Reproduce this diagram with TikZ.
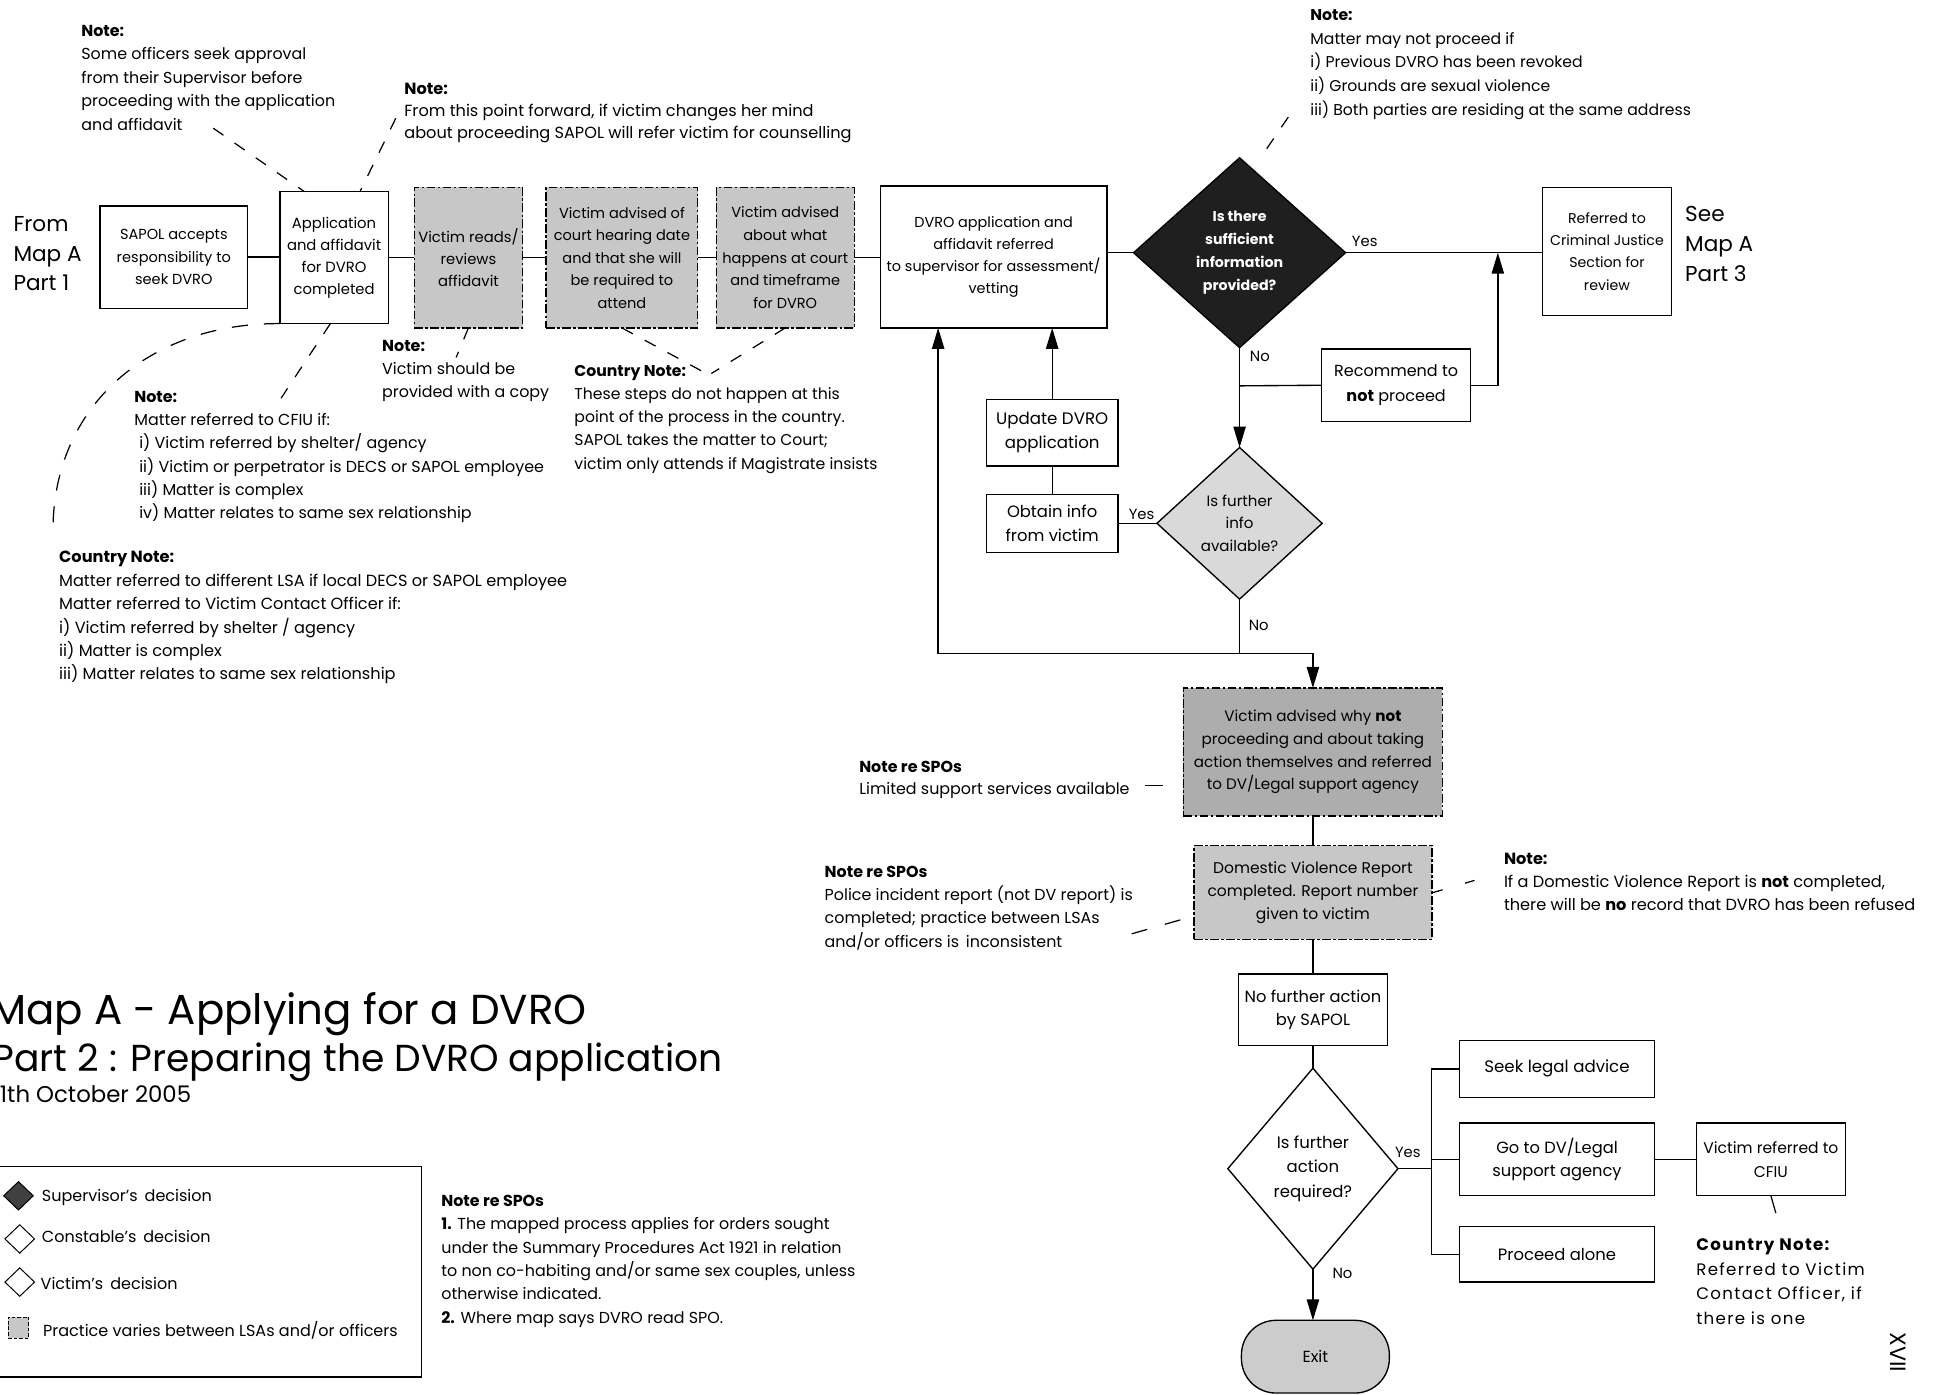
\documentclass[tikz,border=0pt]{standalone}
\usepackage{fontspec}
\setmainfont{Poppins}
\usetikzlibrary{shapes.geometric,arrows.meta,calc}

\newcommand{\fsz}[2]{\fontsize{#1}{#2}\selectfont}

\begin{document}
\begin{tikzpicture}[x=1pt,y=-1pt,
  every node/.style={inner sep=0pt, outer sep=0pt},
  box/.style={draw, line width=1.1pt, align=center, font=\fsz{12}{18}},
  vbox/.style={box, fill=black!22, dash pattern=on 7pt off 2pt on 2pt off 2pt},
  dec/.style={draw, line width=1.1pt, shape=diamond, align=center},
  link/.style={line width=1.1pt},
  arr/.style={line width=1.1pt, -{Triangle[length=17pt,width=10pt]}},
  lead/.style={line width=1pt, dash pattern=on 10pt off 11pt},
  note/.style={anchor=base west, align=left, font=\fsz{12.9}{19}},
  lbl/.style={font=\fsz{12}{13}},
  big/.style={anchor=base west, align=left, font=\fsz{17.5}{24}},
]
\useasboundingbox (0,0) rectangle (1568,1131);

% ---------- main row ----------
\node[big] (from) at (11,236) {From\\Map A\\Part 1};
\node[box, minimum width=120pt, minimum height=83pt, font=\fsz{11.8}{18}] (sapol) at (141,208.5) {SAPOL accepts\\responsibility to\\seek DVRO};
\node[box, minimum width=88pt, minimum height=107pt] (app) at (271,209) {Application\\and affidavit\\for DVRO\\completed};
\node[vbox, minimum width=88pt, minimum height=114pt] (reads) at (380,209) {Victim reads/\\reviews\\affidavit};
\node[vbox, minimum width=123pt, minimum height=114pt, font=\fsz{11.8}{18.3}] (court) at (504.5,209) {Victim advised of\\court hearing date\\and that she will\\be required to\\attend};
\node[vbox, minimum width=112pt, minimum height=114pt, font=\fsz{11.8}{18.3}] (happ) at (637,209) {Victim advised\\about what\\happens at court\\and timeframe\\for DVRO};
\node[box, minimum width=184pt, minimum height=115pt, font=\fsz{11.7}{18}] (dvro) at (806,208.5) {DVRO application and\\affidavit referred\\to supervisor for assessment/\\vetting};
\node[dec, fill=black!88, text=white, minimum width=172pt, minimum height=154pt, font=\bfseries\fsz{11.5}{18.5}] (d1) at (1005.5,205) {Is there\\sufficient\\information\\provided?};
\node[box, minimum width=105pt, minimum height=104pt, font=\fsz{11.5}{18}] (crim) at (1303.5,204) {Referred to\\Criminal Justice\\Section for\\review};
\node[big] (see) at (1367,228) {See\\Map A\\Part 3};

\draw[link] (sapol.east) -- (sapol.east -| app.west);
\draw[link] (app.east) -- (app.east -| reads.west);
\draw[link] (reads.east) -- (reads.east -| court.west);
\draw[link] (court.east) -- (court.east -| happ.west);
\draw[link] (happ.east) -- (happ.east -| dvro.west);
\draw[link] (d1.west -| dvro.east) -- (d1.west);
\draw[link] (d1.east) -- (d1.east -| crim.west);
\node[lbl] (yes1) at (1107,196) {Yes};

% ---------- supervisor loop ----------
\node[box, minimum width=121pt, minimum height=59pt, font=\fsz{13}{20}] (rec) at (1132.5,312.5) {Recommend to\\\textbf{not} proceed};
\node[dec, fill=black!15, minimum width=134pt, minimum height=123pt, font=\fsz{12.2}{18}] (d2) at (1005.5,424.5) {Is further\\info\\available?};
\node[box, minimum width=107pt, minimum height=47pt, font=\fsz{13.3}{19}] (obtain) at (853.5,424.5) {Obtain info\\from victim};
\node[box, minimum width=107pt, minimum height=54pt, font=\fsz{13.5}{19}] (update) at (853.5,351) {Update DVRO\\application};

\coordinate (j1) at (1005.5,313);
\coordinate (j2) at (1215,205);
\coordinate (j3) at (1005.5,530);
\coordinate (j4) at (761,530);
\draw[arr] (d1.south) -- (d2.north);
\node[lbl] (no1) at (1022,289) {No};
\draw[link] (j1) -- (rec.west);
\draw[arr] (rec.east) -| (j2);
\draw[link] (d2.west) -- (d2.west -| obtain.east);
\node[lbl] (yes2) at (926,417) {Yes};
\draw[link] (obtain.north) -- (update.south);
\draw[arr] (update.north) -- (update.north |- dvro.south);
\draw[link] (d2.south) -- (j3);
\node[lbl] (no2) at (1021,507) {No};
\draw[arr] (j3) -- (j4) -- (j4 |- dvro.south);

% ---------- not proceeding ----------
\node[vbox, fill=black!32, minimum width=210pt, minimum height=104pt, font=\fsz{12.3}{18.5}] (why) at (1065,610) {Victim advised why \textbf{not}\\proceeding and about taking\\action themselves and referred\\to DV/Legal support agency};
\node[vbox, minimum width=193pt, minimum height=76pt, font=\fsz{12.6}{18.5}] (dvr) at (1065,724) {Domestic Violence Report\\completed. Report number\\given to victim};
\node[box, minimum width=121pt, minimum height=58pt, font=\fsz{13.2}{19}] (nfa) at (1065,819) {No further action\\by SAPOL};
\node[dec, fill=white, minimum width=138pt, minimum height=163pt, font=\fsz{13.4}{20}] (d3) at (1065,948) {Is further\\action\\required?};
\node[box, minimum width=158pt, minimum height=46pt, font=\fsz{13.5}{19}] (seek) at (1263,867) {Seek legal advice};
\node[box, minimum width=158pt, minimum height=59pt, font=\fsz{13.2}{19}] (go) at (1263,940.5) {Go to DV/Legal\\support agency};
\node[box, minimum width=158pt, minimum height=45pt, font=\fsz{13.3}{19}] (proc) at (1263,1017.5) {Proceed alone};
\node[box, minimum width=121pt, minimum height=59pt, font=\fsz{12.6}{19}] (cfiu) at (1436.5,940.5) {Victim referred to\\CFIU};
\node[draw, line width=1.1pt, fill=black!20, rounded corners=28pt, minimum width=120pt, minimum height=59pt, font=\fsz{13}{13}] (exit) at (1067,1100.5) {Exit};

\draw[arr] (j3) -| (why.north);
\draw[link] (why.south) -- (dvr.north);
\draw[link] (dvr.south) -- (nfa.north);
\draw[link] (nfa.south) -- (d3.north);
\coordinate (j6) at (1161,948);
\draw[link] (d3.east) -- (j6);
\node[lbl] (yes3) at (1142,935) {Yes};
\draw[link] (seek.west) -| (j6) |- (proc.west);
\draw[link] (go.west) -- (go.west -| j6);
\draw[link] (go.east) -- (cfiu.west);
\draw[arr] (d3.south) -- (d3.south |- exit.north);
\node[lbl] (no3) at (1089,1033) {No};
\draw[line width=1pt] (cfiu.south) -- ++(4,14);

% ---------- notes (anchored at the baseline of their last line) ----------
\node[note] (n1) at (66,105.5) {\textbf{Note:}\\Some officers seek approval\\from their Supervisor before\\proceeding with the application\\and affidavit};
\node[note, font=\fsz{13.1}{18}] (n2) at (328,112.5) {\textbf{Note:}\\From this point forward, if victim changes her mind\\about proceeding SAPOL will refer victim for counselling};
\node[note, font=\fsz{12.7}{19.25}] (n3) at (1063,93.5) {\textbf{Note:}\\Matter may not proceed if\\i) Previous DVRO has been revoked\\ii) Grounds are sexual violence\\iii) Both parties are residing at the same address};
\node[note, font=\fsz{12.9}{18.5}] (n4) at (310,322.5) {\textbf{Note:}\\Victim should be\\provided with a copy};
\node[note, font=\fsz{12.7}{18.75}] (n5) at (466,380.5) {\textbf{Country Note:}\\These steps do not happen at this\\point of the process in the country.\\SAPOL takes the matter to Court;\\victim only attends if Magistrate insists};
\node[note, font=\fsz{12.9}{18.8}] (n6) at (109,420.5) {\textbf{Note:}\\Matter referred to CFIU if:\\\hspace*{4pt}i) Victim referred by shelter/ agency\\\hspace*{4pt}ii) Victim or perpetrator is DECS or SAPOL employee\\\hspace*{4pt}iii) Matter is complex\\\hspace*{4pt}iv) Matter relates to same sex relationship};
\node[note, font=\fsz{13.1}{19}] (n7) at (48,551.5) {\textbf{Country Note:}\\Matter referred to different LSA if local DECS or SAPOL employee\\Matter referred to Victim Contact Officer if:\\i) Victim referred by shelter / agency\\ii) Matter is complex\\iii) Matter relates to same sex relationship};
\node[note, font=\fsz{12.9}{18}] (n8) at (697,644.5) {\textbf{Note re SPOs}\\Limited support services available};
\node[note] (n9) at (669,768.5) {\textbf{Note re SPOs}\\Police incident report (not DV report) is\\completed; practice between LSAs\\and/or officers is\, inconsistent};
\node[note, font=\fsz{13.1}{18.5}] (n10) at (1220,738.5) {\textbf{Note:}\\If a Domestic Violence Report is \textbf{not} completed,\\there will be \textbf{no} record that DVRO has been refused};
\node[note, font=\fsz{13.5}{20}\addfontfeatures{LetterSpace=8}] (n11) at (1376,1074.5) {\textbf{Country Note:}\\Referred to Victim\\Contact Officer, if\\there is one};
\node[note] (n12) at (358,1073.5) {\textbf{Note re SPOs}\\\textbf{1.} The mapped process applies for orders sought\\under the Summary Procedures Act 1921 in relation\\to non co-habiting and/or same sex couples, unless\\otherwise indicated.\\\textbf{2.} Where map says DVRO read SPO.};

% note leaders
\coordinate (l1) at (173,104);
\coordinate (l2) at (321,96);
\coordinate (l3) at (1045,95);
\coordinate (l4) at (43,430);
\coordinate (l5) at (228,323);
\coordinate (l6) at (370,290);
\coordinate (l7) at (573,303);
\coordinate (l8) at (577,303);
\coordinate (l9) at (929,637);
\coordinate (l10) at (918,757.5);
\coordinate (l11) at (1200,713);
\draw[lead] (l1) -- ($(app.north)+(-24,0)$);
\draw[lead] (l2) -- ($(app.north)+(21,0)$);
\draw[lead] (l3) -- ($(d1.north)+(17,0)$);
\draw[lead, dash pattern=on 13pt off 13pt] (app.south west) .. controls (120,262) and (43,330) .. (l4);
\draw[lead] ($(app.south)+(-3,0)$) -- (l5);
\draw[lead] (reads.south) -- (l6);
\draw[lead] (court.south) -- (l7);
\draw[lead] (happ.south) -- (l8);
\draw[lead, dash pattern=on 14pt off 20pt] (l9) -- (l9 -| why.west);
\draw[lead, dash pattern=on 13pt off 15pt] (l10) -- ($(dvr.south west)+(0,-19)$);
\draw[lead, dash pattern=on 8pt off 19pt] ($(dvr.east)+(1,0)$) -- (l11);

% ---------- title ----------
\node[anchor=base west, font=\fsz{34}{38}] (t1) at (-8,831) {Map A - Applying for a DVRO};
\node[anchor=base west, font=\fsz{30.5}{38}] (t2) at (-6,869) {Part 2 : Preparing the DVRO application};
\node[anchor=base west, font=\fsz{18.5}{20}] (t3) at (-6,894) {11th October 2005};

% ---------- legend ----------
\node[draw, line width=1pt, minimum width=347pt, minimum height=171pt] (legend) at (168.5,1031.5) {};
\node[dec, fill=black!75, line width=0.8pt, minimum width=24pt, minimum height=23pt] (k1) at (15,970) {};
\node[dec, fill=white, line width=0.8pt, minimum width=24pt, minimum height=23pt] (k2) at (16,1005) {};
\node[dec, fill=white, line width=0.8pt, minimum width=24pt, minimum height=23pt] (k3) at (16,1040) {};
\node[vbox, line width=0.8pt, minimum width=17pt, minimum height=17pt, dash pattern=on 3pt off 1.5pt] (k4) at (15,1077) {};
\node[anchor=west, font=\fsz{13}{13}] (kt1) at (34,971) {Supervisor's\, decision};
\node[anchor=west, font=\fsz{13}{13}] (kt2) at (34,1003) {Constable's\, decision};
\node[anchor=west, font=\fsz{13}{13}] (kt3) at (33,1041) {Victim's\, decision};
\node[anchor=west, font=\fsz{13}{13}] (kt4) at (35,1079) {Practice varies between LSAs and/or officers};

\node[rotate=-90, font=\fsz{18}{18}] (pg) at (1540,1097) {XVII};
\end{tikzpicture}
\end{document}
